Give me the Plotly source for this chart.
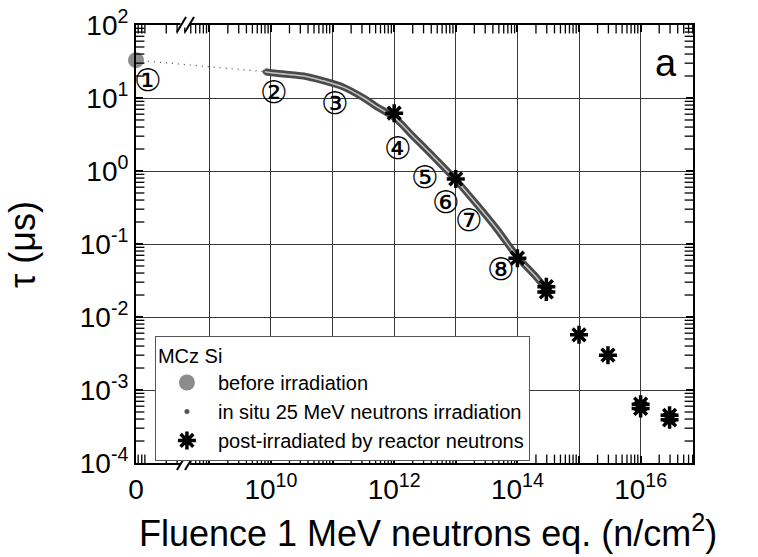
import plotly.graph_objects as go

# Fluence 0 is drawn at the left end of the broken log axis
ZERO_POS = 10 ** 7.81
X_RANGE = [7.81, 16.85]
Y_RANGE = [-4, 2]

# before irradiation
before_fluence = [0]
before_tau = [33.0]

# in situ 25 MeV neutron irradiation (1 MeV neutron eq. fluence, lifetime in µs)
insitu_fluence = [8.0e9, 1.23e10, 3.4e10, 7.1e10, 1.5e11, 3.2e11, 5.2e11, 1.0e12,
                  2.0e12, 4.4e12, 1.0e13, 2.2e13, 4.7e13, 1.0e14, 2.1e14, 3.1e14]
insitu_tau = [22.9, 21.8, 20.0, 17.2, 14.1, 10.0, 7.6, 5.43,
              3.02, 1.55, 0.753, 0.347, 0.158, 0.067, 0.034, 0.0224]

# post-irradiated by reactor neutrons
reactor_fluence = [1e12, 1e13, 1e14, 2.95e14, 2.95e14, 1e15, 2.95e15,
                   1e16, 1e16, 2.95e16, 2.95e16]
reactor_tau = [6.2, 0.78, 0.064, 0.022, 0.026, 0.0057, 0.003,
               5.6e-4, 6.4e-4, 3.9e-4, 4.5e-4]

# circled step labels and where they sit (log10 fluence, log10 tau)
step_labels = ["①", "②", "③", "④", "⑤", "⑥", "⑦", "⑧"]
step_label_pos = [(8.00, 1.247), (10.05, 1.082), (11.04, 0.932), (12.065, 0.315),
                  (12.504, -0.082), (12.846, -0.425), (13.22, -0.671), (13.74, -1.342)]

x_tickvals = [ZERO_POS] + [10 ** k for k in range(9, 17)]
x_ticktext = ["0", "", "10<sup>10</sup>", "", "10<sup>12</sup>", "",
              "10<sup>14</sup>", "", "10<sup>16</sup>"]
y_tickvals = [10 ** k for k in range(-4, 3)]
y_ticktext = ["10<sup>%d</sup>" % k for k in range(-4, 3)]

x_minor = [m * 10 ** k for k in range(7, 17) for m in range(2, 10)
           if 10 ** X_RANGE[0] < m * 10 ** k < 10 ** X_RANGE[1]]
y_minor = [m * 10 ** k for k in range(-4, 2) for m in range(2, 10)]

FONT = "Liberation Sans, Arial, sans-serif"

# plot-area size in pixels, used for frame decorations
W, H = 557.0, 438.0
def px(v):
    return (v - 136) / W
def py(v):
    return (463 - v) / H

before_x = [ZERO_POS if f == 0 else f for f in before_fluence]

fig = go.Figure()

# dotted link from the unirradiated value to the start of the in situ curve
fig.add_trace(go.Scatter(
    x=[before_x[0], insitu_fluence[0]], y=[before_tau[0], insitu_tau[0]],
    mode="lines", line=dict(color="#444444", width=1.2, dash="1px,5px"),
    showlegend=False, hoverinfo="skip", cliponaxis=False))

# in situ points (legend entry)
fig.add_trace(go.Scatter(
    x=insitu_fluence, y=insitu_tau, mode="markers",
    marker=dict(symbol="circle", size=5, color="#555555"),
    name="in situ 25 MeV neutrons irradiation", legendrank=2))

# dense band of the in situ measurement
fig.add_trace(go.Scatter(
    x=insitu_fluence, y=insitu_tau, mode="lines",
    line=dict(color="#4a4a4a", width=7, shape="spline", smoothing=1.0),
    showlegend=False, hoverinfo="skip"))
fig.add_trace(go.Scatter(
    x=insitu_fluence, y=insitu_tau, mode="lines",
    line=dict(color="#c4c4c4", width=1.5, shape="spline", smoothing=1.0),
    showlegend=False, hoverinfo="skip"))

fig.add_trace(go.Scatter(
    x=before_x, y=before_tau, mode="markers",
    marker=dict(symbol="circle", size=16, color="#8c8c8c"),
    name="before irradiation", legendrank=1, cliponaxis=False))

fig.add_trace(go.Scatter(
    x=reactor_fluence, y=reactor_tau, mode="markers",
    marker=dict(symbol="asterisk-open", size=15, color="black",
                line=dict(color="black", width=3.5)),
    name="post-irradiated by reactor neutrons", legendrank=3))

# minor ticks on the frame: short bar markers centred on each edge,
# clipped by the plot area so only the inner half shows
edge_lo_x, edge_hi_x = 10 ** X_RANGE[0], 10 ** X_RANGE[1]
edge_lo_y, edge_hi_y = 10 ** Y_RANGE[0], 10 ** Y_RANGE[1]
fig.add_trace(go.Scatter(
    x=x_minor + x_minor, y=[edge_lo_y] * len(x_minor) + [edge_hi_y] * len(x_minor),
    mode="markers", cliponaxis=True, showlegend=False, hoverinfo="skip",
    marker=dict(symbol="line-ns-open", size=12, color="black",
                line=dict(color="black", width=1.3))))
fig.add_trace(go.Scatter(
    x=[edge_lo_x] * len(y_minor) + [edge_hi_x] * len(y_minor), y=y_minor + y_minor,
    mode="markers", cliponaxis=True, showlegend=False, hoverinfo="skip",
    marker=dict(symbol="line-ew-open", size=12, color="black",
                line=dict(color="black", width=1.3))))

for lab, (lxp, lyp) in zip(step_labels, step_label_pos):
    fig.add_annotation(x=lxp, y=lyp, xref="x", yref="y", text=lab, showarrow=False,
                       font=dict(family="DejaVu Sans", size=31, color="black"))

fig.add_annotation(x=0.975, y=0.965, xref="paper", yref="paper", text="a",
                   showarrow=False, font=dict(family=FONT, size=38, color="black"))

# axis titles
fig.add_annotation(x=px(428), y=py(547), xref="paper", yref="paper",
                   xanchor="center", yanchor="bottom", yshift=-9,
                   text="Fluence 1 MeV neutrons eq. (n/cm<sup>2</sup>)", showarrow=False,
                   font=dict(family=FONT, size=36, color="black"))
fig.add_annotation(x=px(22), y=py(245), xref="paper", yref="paper",
                   xanchor="center", yanchor="middle", textangle=-90,
                   text="τ (μs)", showarrow=False,
                   font=dict(family=FONT, size=36, color="black"))

# axis-break marks
for (ytop, ybot, yaxis) in [(17, 32, 25), (455, 470, 463)]:
    fig.add_shape(type="rect", xref="paper", yref="paper",
                  x0=px(180.5), x1=px(189.5), y0=py(yaxis + 2.5), y1=py(yaxis - 2.5),
                  fillcolor="white", line=dict(width=0), layer="above")
    for x0 in (177, 185):
        fig.add_shape(type="line", xref="paper", yref="paper",
                      x0=px(x0), x1=px(x0 + 9), y0=py(ybot), y1=py(ytop),
                      line=dict(color="black", width=2), layer="above")

axis_common = dict(
    type="log", showline=True, linecolor="black", linewidth=2, mirror="ticks",
    ticks="inside", ticklen=7, tickcolor="black", tickwidth=1.5,
    showgrid=True, gridcolor="#3a3a3a", gridwidth=1, zeroline=False,
    tickfont=dict(family=FONT, size=28, color="black"),
)

fig.update_layout(
    xaxis=dict(**axis_common, range=X_RANGE, tickmode="array",
               tickvals=x_tickvals, ticktext=x_ticktext),
    yaxis=dict(**axis_common, range=Y_RANGE, tickmode="array",
               tickvals=y_tickvals, ticktext=y_ticktext),
    width=758, height=557,
    margin=dict(l=136, r=65, t=25, b=94, autoexpand=False),
    paper_bgcolor="white", plot_bgcolor="white",
    font=dict(family=FONT, color="black"),
    legend=dict(
        x=0.034, y=0.29, xanchor="left", yanchor="top",
        bgcolor="white", bordercolor="#555555", borderwidth=1,
        font=dict(family=FONT, size=20, color="black"),
        title=dict(text="MCz Si", font=dict(family=FONT, size=20, color="black")),
        itemwidth=52, tracegroupgap=0,
    ),
)

fig.write_html("out.html")
